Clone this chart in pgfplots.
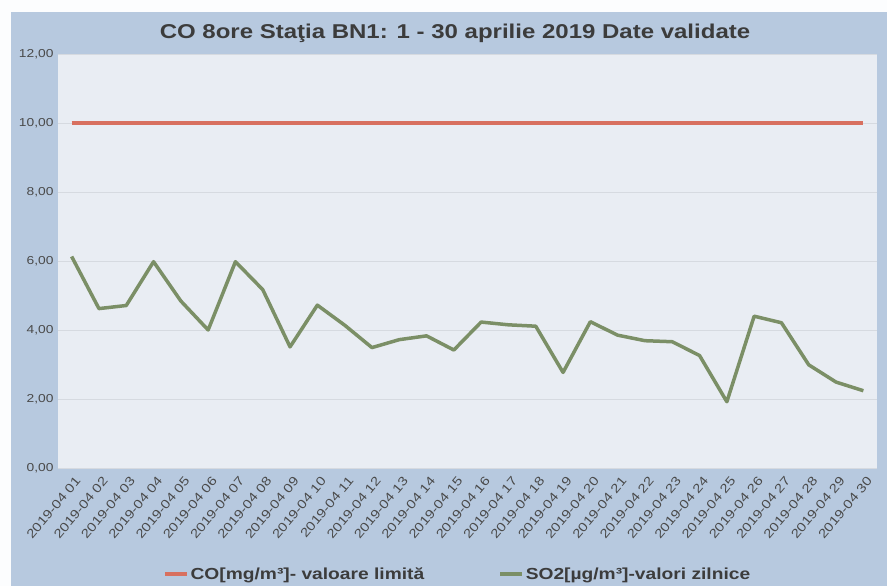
\documentclass[border=0pt]{standalone}
\usepackage{fontspec}
\setmainfont{Liberation Sans}[FakeStretch=1.2]
\usepackage{pgfplots}
\pgfplotsset{compat=1.18}
\definecolor{bgblue}{HTML}{B7C9DF}
\definecolor{plotbg}{HTML}{E9EDF3}
\definecolor{cored}{HTML}{D8705F}
\definecolor{sogreen}{HTML}{7B8F66}
\definecolor{gridc}{HTML}{D6DAE0}
\definecolor{txt}{HTML}{3C3C3C}
\definecolor{tick}{HTML}{4A4A4A}
\begin{document}
\begin{tikzpicture}
\fill[white!96!bgblue] (0pt,0pt) rectangle (887pt,586pt);
\fill[bgblue] (11pt,0pt) rectangle (887pt,574pt);
\node[font=\bfseries\fontsize{20}{24}\selectfont, text=txt] at (455pt,553pt) {CO 8ore Staţia BN1: 1 - 30 aprilie 2019 Date validate};
\begin{axis}[
  at={(58pt,118pt)}, anchor=south west,
  width=819pt, height=414pt, scale only axis,
  xmin=0.5, xmax=30.5, ymin=0, ymax=12,
  axis background/.style={fill=plotbg},
  axis line style={draw=none},
  tick style={draw=none},
  ymajorgrids, grid style={gridc, line width=0.8pt},
  ytick={0,2,4,6,8,10,12},
  /pgf/number format/assume math mode=true,
  yticklabel style={/pgf/number format/fixed, /pgf/number format/fixed zerofill, /pgf/number format/precision=2, /pgf/number format/use comma},
  yticklabel style={font=\fontsize{11.5}{13}\selectfont, text=tick, xshift=-1pt},
  xtick={1,...,30},
  xticklabels={2019-04 01,2019-04 02,2019-04 03,2019-04 04,2019-04 05,2019-04 06,2019-04 07,2019-04 08,2019-04 09,2019-04 10,2019-04 11,2019-04 12,2019-04 13,2019-04 14,2019-04 15,2019-04 16,2019-04 17,2019-04 18,2019-04 19,2019-04 20,2019-04 21,2019-04 22,2019-04 23,2019-04 24,2019-04 25,2019-04 26,2019-04 27,2019-04 28,2019-04 29,2019-04 30},
  xticklabel style={font=\fontsize{12.5}{14}\selectfont, text=tick, rotate=50, anchor=north east, inner sep=1pt, xshift=-3pt, yshift=-6pt},
  legend columns=2,
  legend style={at={(0.488,-0.256)}, anchor=center, draw=none, fill=none,
    font=\bfseries\fontsize{16}{19}\selectfont, text=txt,
    /tikz/every even column/.append style={column sep=72pt}},
  legend image code/.code={\draw[#1, line width=3.5pt] (0pt,0pt) -- (22pt,0pt);},
]
\addplot[cored, line width=3.5pt] coordinates {
(1,10)(2,10)(3,10)(4,10)(5,10)(6,10)(7,10)(8,10)(9,10)(10,10)
(11,10)(12,10)(13,10)(14,10)(15,10)(16,10)(17,10)(18,10)(19,10)(20,10)
(21,10)(22,10)(23,10)(24,10)(25,10)(26,10)(27,10)(28,10)(29,10)(30,10)};
\addlegendentry{CO[mg/m³]- valoare limită}
\addplot[sogreen, line width=3.5pt, line join=round] coordinates {
(1,6.13)(2,4.62)(3,4.71)(4,5.98)(5,4.84)(6,4.00)(7,5.98)(8,5.17)(9,3.51)(10,4.72)
(11,4.14)(12,3.49)(13,3.72)(14,3.83)(15,3.42)(16,4.23)(17,4.15)(18,4.11)(19,2.77)(20,4.24)
(21,3.85)(22,3.69)(23,3.66)(24,3.26)(25,1.92)(26,4.40)(27,4.21)(28,2.99)(29,2.49)(30,2.24)};
\addlegendentry{SO2[µg/m³]-valori zilnice}
\end{axis}
\pgfresetboundingbox
\path (0pt,0pt) rectangle (887pt,586pt);
\end{tikzpicture}
\end{document}
